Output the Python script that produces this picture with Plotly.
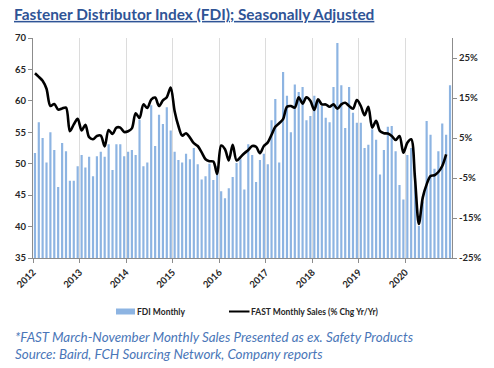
import pandas as pd
import plotly.graph_objects as go

# ---------------- data ----------------
months = pd.date_range("2012-01-01", "2020-12-01", freq="MS")

fdi_monthly = [
    51.7, 56.6, 54.1, 50.2, 55.0, 52.2, 46.3, 53.3, 52.0, 47.3, 47.3, 49.6,   # 2012
    51.4, 49.4, 51.1, 48.0, 51.2, 51.9, 51.1, 53.1, 49.0, 53.1, 53.1, 51.2,   # 2013
    51.9, 52.2, 51.4, 57.0, 49.6, 50.2, 59.3, 52.8, 57.8, 56.3, 59.0, 55.3,   # 2014
    51.9, 50.6, 50.2, 51.6, 50.7, 52.5, 49.9, 47.5, 48.0, 50.0, 47.4, 49.6,   # 2015
    45.6, 44.5, 46.1, 47.9, 50.1, 50.7, 45.9, 53.1, 51.4, 47.1, 50.6, 51.6,   # 2016
    49.9, 56.9, 60.3, 50.2, 64.6, 60.8, 55.0, 62.6, 61.4, 62.2, 56.9, 57.6,   # 2017
    60.8, 60.1, 59.2, 57.3, 56.6, 62.2, 69.2, 62.5, 55.7, 62.2, 58.1, 56.5,   # 2018
    56.5, 52.5, 53.0, 55.5, 53.8, 48.3, 52.2, 55.9, 56.0, 52.0, 46.6, 44.3,   # 2019
    51.4, 52.5, 48.5, 40.1, 44.0, 56.8, 54.6, 49.2, 52.0, 56.4, 54.6, 62.5,   # 2020
]

fast_sales_pct = [
    21.2, 20.3, 19.3, 17.3, 13.0, 13.5, 12.1, 12.4, 12.6, 6.7, 8.4, 9.8,     # 2012
    6.9, 8.3, 5.2, 4.7, 5.5, 5.6, 2.9, 7.0, 6.0, 7.6, 7.6, 6.5,              # 2013
    6.7, 7.4, 11.2, 10.0, 13.4, 12.5, 14.6, 15.1, 13.0, 14.4, 15.2, 17.6,    # 2014
    11.7, 8.0, 5.6, 6.2, 5.1, 3.7, 3.0, 1.4, -0.3, -0.8, -0.9, -4.0,         # 2015
    3.1, 2.2, -0.6, 3.3, -0.6, 0.2, 1.2, 2.0, 3.0, 2.8, 1.2, 3.0,            # 2016
    3.9, 5.8, 7.8, 8.7, 9.7, 12.8, 13.0, 12.6, 15.2, 13.6, 15.2, 14.3,       # 2017
    12.0, 14.7, 13.4, 13.4, 12.8, 13.4, 12.3, 13.4, 13.8, 13.0, 12.3, 14.5,  # 2018
    13.0, 10.7, 12.8, 7.6, 9.3, 6.7, 6.2, 6.1, 5.5, 4.5, 5.5, 1.3,           # 2019
    3.8, 4.7, -5.0, -16.5, -9.9, -6.6, -4.5, -4.3, -3.5, -2.0, 0.9,          # 2020 (Jan-Nov)
]

year_ticks = [f"{y}-01-01" for y in range(2012, 2021)]
year_labels = [str(y) for y in range(2012, 2021)]
midyear_ticks = [f"{y}-07-01" for y in range(2012, 2021)]
pct_ticks = [-25, -15, -5, 5, 15, 25]
pct_labels = [f"{v}%" for v in pct_ticks]

# ---------------- figure ----------------
W, H = 494, 368
ML, MR, MT, MB = 33, 42, 38, 110
PW, PH = W - ML - MR, H - MT - MB


def px_x(px):
    return (px - ML) / PW


def px_y(py):
    return (H - MB - py) / PH


fig = go.Figure()

fig.add_trace(go.Bar(
    x=months, y=fdi_monthly, name="FDI Monthly",
    xperiod="M1", xperiodalignment="middle",
    marker=dict(color="#8db4e2", line=dict(width=0)),
    showlegend=False,
))

fig.add_trace(go.Scatter(
    x=months[:len(fast_sales_pct)], y=fast_sales_pct, yaxis="y2",
    name="FAST Monthly Sales (% Chg Yr/Yr)",
    xperiod="M1", xperiodalignment="middle",
    mode="lines", line=dict(color="black", width=2.6, shape="spline", smoothing=0.9),
    showlegend=False,
))

tick_font = dict(family="Lato", size=9.5, color="#262626", weight="bold")
x_range = ["2012-01-01", "2021-01-01"]

fig.update_layout(
    width=W, height=H,
    margin=dict(l=ML, r=MR, t=MT, b=MB, pad=0),
    paper_bgcolor="white", plot_bgcolor="white",
    bargap=0.42,
    title=dict(
        text="Fastener Distributor Index (FDI); Seasonally Adjusted",
        x=14 / W, xanchor="left", xref="container",
        y=1 - 14.5 / H, yanchor="middle", yref="container",
        font=dict(family="Lato", size=15.4, color="#2f5496", weight="bold",
                  lineposition="under"),
    ),
    xaxis=dict(
        type="date", range=x_range,
        tickmode="array", tickvals=year_ticks, ticktext=year_labels,
        tickangle=-45, tickfont=tick_font,
        ticks="outside", ticklen=4, tickcolor="#8c8c8c",
        showgrid=True, gridcolor="#dcdcdc", gridwidth=1,
        showline=True, linecolor="#8c8c8c", linewidth=1,
        zeroline=False,
    ),
    xaxis2=dict(
        type="date", range=x_range, overlaying="x", side="top",
        tickmode="array", tickvals=midyear_ticks, showticklabels=False,
        ticks="", showgrid=True, gridcolor="#a6a6a6", gridwidth=1,
        showline=False, zeroline=False,
    ),
    yaxis=dict(
        range=[35, 70], dtick=5, tick0=35,
        tickfont=tick_font, ticks="outside", ticklen=4, tickcolor="#8c8c8c",
        showgrid=False, zeroline=False,
        showline=True, linecolor="#8c8c8c", linewidth=1,
    ),
    yaxis2=dict(
        range=[-25, 30], overlaying="y", side="right",
        tickmode="array", tickvals=pct_ticks, ticktext=pct_labels,
        tickfont=tick_font, ticks="outside", ticklen=4, tickcolor="#8c8c8c",
        showgrid=False, zeroline=False,
        showline=True, linecolor="#8c8c8c", linewidth=1,
    ),
)

# ---------------- custom legend ----------------
leg_y = 311.5
fig.add_shape(type="rect", xref="paper", yref="paper",
              x0=px_x(116), x1=px_x(135), y0=px_y(314.5), y1=px_y(308.5),
              fillcolor="#8db4e2", line=dict(width=0))
fig.add_shape(type="line", xref="paper", yref="paper",
              x0=px_x(229), x1=px_x(249.5), y0=px_y(leg_y), y1=px_y(leg_y),
              line=dict(color="black", width=2))
legend_font = dict(family="Lato", size=8.5, color="#262626", weight="bold")
fig.add_annotation(text="FDI Monthly", xref="paper", yref="paper",
                   x=px_x(136), y=px_y(leg_y), xanchor="left", yanchor="middle",
                   showarrow=False, font=legend_font, borderpad=0)
fig.add_annotation(text="FAST Monthly Sales (% Chg Yr/Yr)", xref="paper", yref="paper",
                   x=px_x(250), y=px_y(leg_y), xanchor="left", yanchor="middle",
                   showarrow=False, font=legend_font, borderpad=0)

# ---------------- footnotes ----------------
note_font = dict(family="Lato", size=13.4, color="#4a76b8", style="italic")
fig.add_annotation(text="*FAST March-November Monthly Sales Presented as ex. Safety Products",
                   xref="paper", yref="paper", x=px_x(14), y=px_y(336.5),
                   xanchor="left", yanchor="middle", showarrow=False,
                   font=note_font, borderpad=0)
fig.add_annotation(text="Source: Baird, FCH Sourcing Network, Company reports",
                   xref="paper", yref="paper", x=px_x(14), y=px_y(353.5),
                   xanchor="left", yanchor="middle", showarrow=False,
                   font=note_font, borderpad=0)

fig.write_html("out.html",
               config={"displayModeBar": False},
               post_script="document.body.style.margin='0px';document.body.style.overflow='hidden';")
